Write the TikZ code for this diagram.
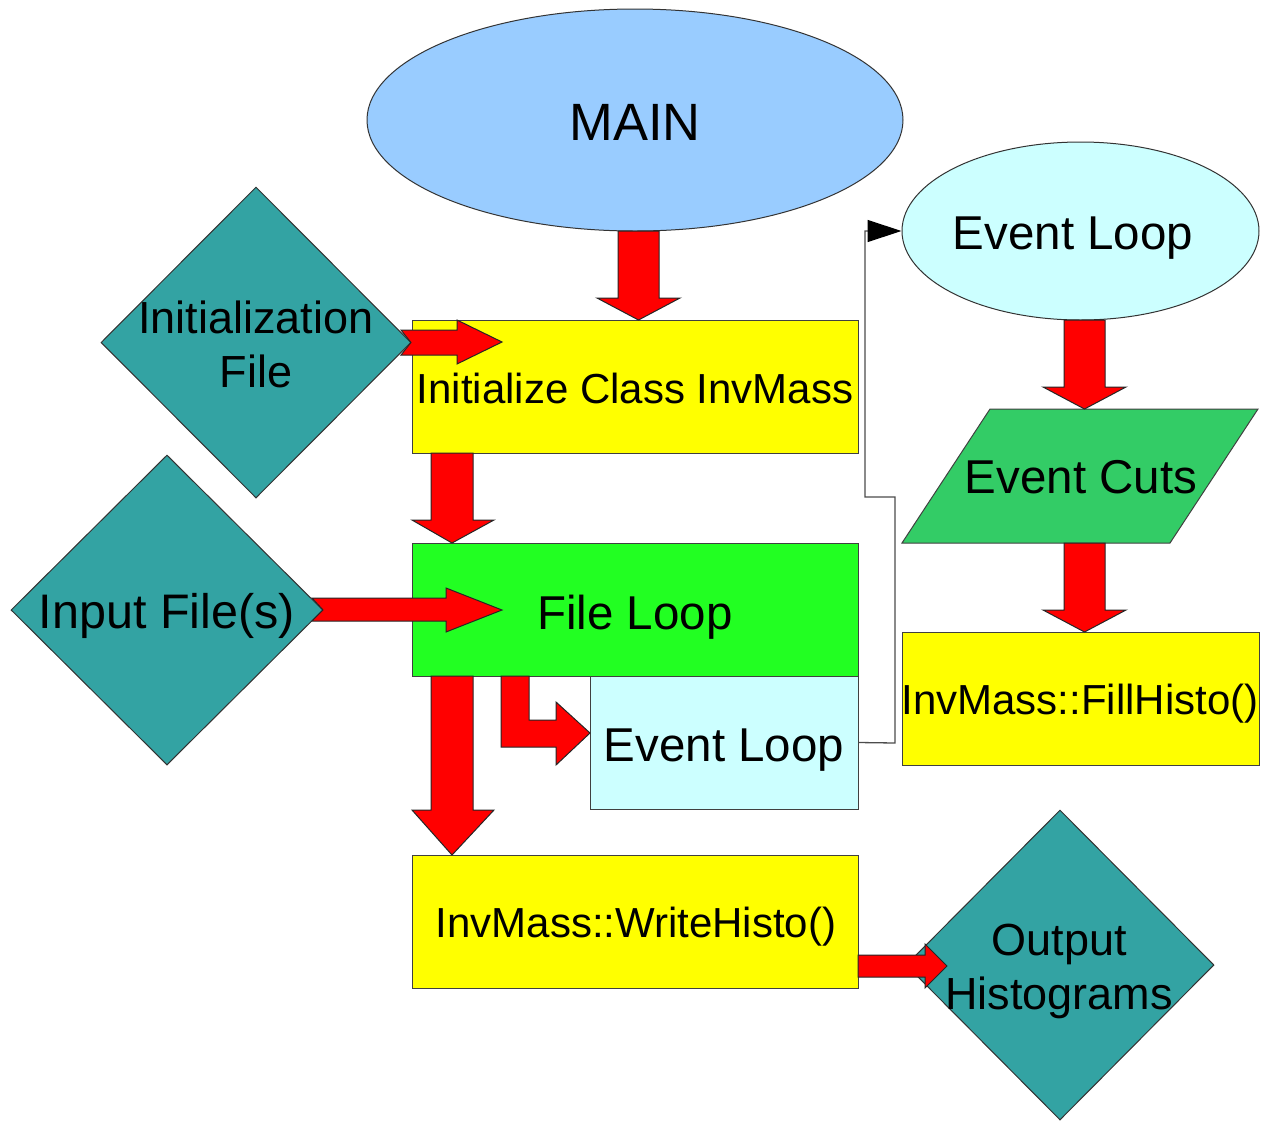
\documentclass[tikz,border=0pt]{standalone}
\usepackage{fontspec}
\setmainfont{Liberation Sans}
\usetikzlibrary{shapes.geometric,arrows.meta}
\definecolor{mainblue}{HTML}{99CCFF}
\definecolor{paleblue}{HTML}{CCFFFF}
\definecolor{teal2}{HTML}{33A3A3}
\definecolor{yel}{HTML}{FFFF00}
\definecolor{brightgreen}{HTML}{22FF22}
\definecolor{cutgreen}{HTML}{33CC66}
\definecolor{arrred}{HTML}{FF0000}
\newcommand{\fsz}[1]{\fontsize{#1}{#1}\selectfont}
\begin{document}
\begin{tikzpicture}[x=1pt,y=-1pt,
  box/.style={draw=black!75,line width=1pt,inner sep=0pt},
  ell/.style={ellipse,draw=black!80,line width=1pt,inner sep=0pt},
  dia/.style={diamond,draw=black!80,line width=1pt,fill=teal2,inner sep=0pt},
  lab/.style={inner sep=0pt,align=center,text=black},
  redarrow/.style={fill=arrred,draw=black!85,line width=1pt,line join=miter},
  thin/.style={draw=black!70,line width=1.3pt}
]
\useasboundingbox (0,0) rectangle (1262,1120);

% ellipses
\node[ell,fill=mainblue,minimum width=536pt,minimum height=222pt] (main) at (635,120) {};
\node[lab,font=\fsz{52.5}] (maint) at (635,122) {MAIN};
\node[ell,fill=paleblue,minimum width=357pt,minimum height=178pt] (evell) at (1080.5,231) {};
\node[lab,font=\fsz{47.5}] (evellt) at (1073,238) {Event Loop};

% diamonds
\node[dia,minimum width=310pt,minimum height=311pt] (initf) at (256,342.5) {};
\node[dia,minimum width=312pt,minimum height=310pt] (inpf) at (167,610) {};

% rectangles
\node[box,fill=yel,minimum width=446pt,minimum height=133pt] (initc) at (635,386.5) {};
\node[lab,font=\fsz{42}] (initct) at (635,388.5) {Initialize Class InvMass};
\node[box,fill=brightgreen,minimum width=446pt,minimum height=133pt] (floop) at (635,609.5) {};
\node[lab,font=\fsz{47.5}] (floopt) at (635,617) {File Loop};
\node[box,fill=paleblue,minimum width=268pt,minimum height=133pt] (evrect) at (724,742.5) {};
\node[lab,font=\fsz{47.5}] (evrectt) at (724,750) {Event Loop};
\node[box,fill=yel,minimum width=446pt,minimum height=133pt] (write) at (635,921.5) {};
\node[lab,font=\fsz{42}] (writet) at (636,927) {InvMass::WriteHisto()};
\node[box,fill=yel,minimum width=357pt,minimum height=133pt] (fill) at (1080.5,698.5) {};
\node[lab,font=\fsz{42}] (fillt) at (1080,704) {InvMass::FillHisto()};

% parallelogram
\draw[box,fill=cutgreen] (990,409) -- (1258,409) -- (1170,543) -- (902,543) -- cycle;
\node[lab,font=\fsz{47.5}] (cutst) at (1081,477) {Event Cuts};

% output diamond
\node[dia,minimum width=308pt,minimum height=310pt] (outd) at (1060,965) {};

% thin connector
\coordinate (c1) at (895,743);
\coordinate (c2) at (865,497);
\draw[thin,-{Triangle[length=34pt,width=22pt,fill=black,color=black]}] (evrect.east) -- (c1) |- (c2) |- (evell.west);

% red block arrows
\draw[redarrow] (618,231) -- (659,231) -- (659,298) -- (680,298) -- (638.5,320) -- (597,298) -- (618,298) -- cycle;
\draw[redarrow] (431,453) -- (473,453) -- (473,520) -- (494,520) -- (452,543) -- (412,520) -- (431,520) -- cycle;
\draw[redarrow] (431,676) -- (473,676) -- (473,810) -- (494,810) -- (452,855) -- (412,810) -- (431,810) -- cycle;
\draw[redarrow] (1064,320) -- (1105,320) -- (1105,387) -- (1126,387) -- (1084.5,409) -- (1043,387) -- (1064,387) -- cycle;
\draw[redarrow] (1064,543) -- (1105,543) -- (1105,610) -- (1126,610) -- (1084.5,632) -- (1043,610) -- (1064,610) -- cycle;
\draw[redarrow] (401,330) -- (457,330) -- (457,320) -- (502,342) -- (457,364) -- (457,355) -- (401,355) -- (411,342.5) -- cycle;
\draw[redarrow] (312,598) -- (446,598) -- (446,588) -- (502,610) -- (446,632) -- (446,621) -- (312,621) -- (323,610) -- cycle;
\draw[redarrow] (858,955) -- (925,955) -- (925,944) -- (947,966) -- (925,988) -- (925,977) -- (858,977) -- cycle;
\draw[redarrow] (501,676) -- (529,676) -- (529,720) -- (556,720) -- (556,702) -- (590,733) -- (556,765) -- (556,747) -- (501,747) -- cycle;

% diamond texts
\node[lab,font=\fsz{45},align=center] (initft) at (256,344) {Initialization\\[9pt]File};
\node[lab,font=\fsz{48.5}] (inpft) at (167,616) {Input File(s)};
\node[lab,font=\fsz{45},align=center] (outdt) at (1059,971) {Output\\[9pt]Histograms};
\end{tikzpicture}
\end{document}
